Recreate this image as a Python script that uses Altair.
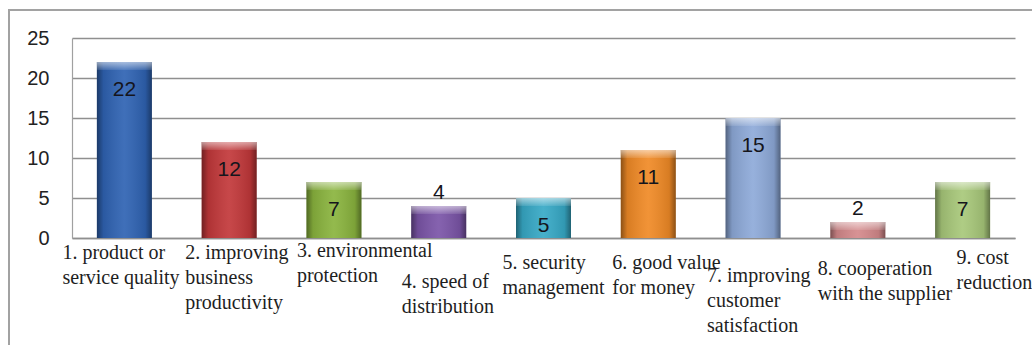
import altair as alt
import pandas as pd

# Survey categories (wrapped onto the lines they are printed on)
categories = [
    "1. product or\nservice quality",
    "2. improving\nbusiness\nproductivity",
    "3. environmental\nprotection",
    "4. speed of\ndistribution",
    "5. security\nmanagement",
    "6. good value\nfor money",
    "7. improving\ncustomer\nsatisfaction",
    "8. cooperation\nwith the supplier",
    "9. cost\nreduction",
]
values = [22, 12, 7, 4, 5, 11, 15, 2, 7]
bar_colors = [
    "#2f63b3", "#c2383a", "#8ab43e", "#7b55a8", "#37a9c6",
    "#f08a26", "#8eaad9", "#d4898b", "#a8c87a",
]
y_ticks = [0, 5, 10, 15, 20, 25]

# Staggered placement of the category labels under the axis (pixels)
label_shift = [-62, -44, -37, -37, -41, -36, -46, -40, -6]
label_drop = [4, 4, 2, 33, 14, 14, 27, 20, 9]

df = pd.DataFrame({"category": categories, "value": values})

PLOT_W, PLOT_H = 943, 200
PAD = {"left": 72, "top": 38, "right": 1032 - 72 - PLOT_W, "bottom": 345 - 38 - PLOT_H}
GRID = "#8f8f8f"

x_enc = alt.X(
    "category:N",
    sort=categories,
    scale=alt.Scale(domain=categories, paddingInner=0, paddingOuter=0),
    title=None,
    axis=alt.Axis(
        labelAngle=0,
        labelAlign="left",
        labelBaseline="top",
        labelExpr="split(datum.label, '\\n')",
        labelOffset=alt.ExprRef(f"{label_shift}[parseInt(datum.value) - 1]"),
        labelPadding=alt.ExprRef(f"{label_drop}[parseInt(datum.value) - 1]"),
        labelLineHeight=25,
        labelFont="Liberation Serif",
        labelFontSize=20,
        labelColor="#1e1e1e",
        labelLimit=0,
        labelOverlap=False,
        ticks=False,
        tickSize=0,
        domainColor=GRID,
        domainWidth=1.5,
    ),
)
y_enc = alt.Y(
    "value:Q",
    scale=alt.Scale(domain=[0, 25], nice=False),
    title=None,
    axis=alt.Axis(
        values=y_ticks,
        grid=True,
        gridColor=GRID,
        gridWidth=1.5,
        ticks=False,
        domainColor="#a0a0a0",
        domainWidth=1.2,
        labelFont="Liberation Sans",
        labelFontSize=20,
        labelColor="#222222",
        labelPadding=23,
    ),
)

base = alt.Chart(df).encode(x=x_enc, y=y_enc)

# Outer frame around the whole chart
frame = alt.Chart(df).mark_rect(
    fill="transparent", stroke="#a3a3a3", strokeWidth=1.5
).encode(
    x=alt.value(9 - PAD["left"]),
    x2=alt.value(1032 - PAD["left"] + 20),
    y=alt.value(10 - PAD["top"]),
    y2=alt.value(345 - PAD["top"] + 20),
)

bars = base.mark_bar(width=55).encode(
    color=alt.Color(
        "category:N",
        scale=alt.Scale(domain=categories, range=bar_colors),
        legend=None,
    )
)

# Rounded-column shading: darker sides, lighter middle
side_shade = base.mark_bar(
    width=55,
    fill=alt.Gradient(
        gradient="linear",
        x1=0, x2=1, y1=0, y2=0,
        stops=[
            alt.GradientStop(color="rgba(0,0,0,0.42)", offset=0),
            alt.GradientStop(color="rgba(0,0,0,0.10)", offset=0.12),
            alt.GradientStop(color="rgba(255,255,255,0.08)", offset=0.5),
            alt.GradientStop(color="rgba(0,0,0,0.10)", offset=0.88),
            alt.GradientStop(color="rgba(0,0,0,0.42)", offset=1),
        ],
    ),
)

# Bevelled highlight along the top edge of each column
bevel = base.mark_bar(
    width=55,
    y2Offset=8,
    fill=alt.Gradient(
        gradient="linear",
        x1=0, x2=0, y1=0, y2=1,
        stops=[
            alt.GradientStop(color="rgba(255,255,255,0.55)", offset=0),
            alt.GradientStop(color="rgba(255,255,255,0.10)", offset=1),
        ],
    ),
).encode(y2=alt.Y2("value:Q"))

value_font = dict(font="Liberation Sans", fontSize=21, color="#15151c", baseline="middle")

labels_inside = base.transform_filter("datum.value >= 5").mark_text(
    dy=28, **value_font
).encode(text="value:Q")

labels_above = base.transform_filter("datum.value < 5").mark_text(
    dy=-13, **value_font
).encode(text="value:Q")

chart = (
    alt.layer(frame, bars, side_shade, bevel, labels_inside, labels_above)
    .properties(
        width=PLOT_W,
        height=PLOT_H,
        autosize=alt.AutoSizeParams(type="none"),
        padding=PAD,
        background="white",
    )
    .configure_view(stroke="transparent")
)

chart.save("out.html", embed_options={"renderer": "svg", "actions": False})
